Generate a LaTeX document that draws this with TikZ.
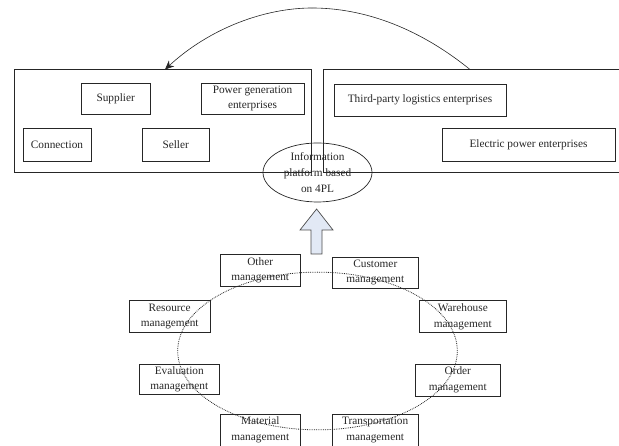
\documentclass[tikz,border=0pt]{standalone}
\usepackage{fontspec}
\setmainfont{Liberation Serif}
\usetikzlibrary{shapes.geometric,arrows.meta}
\definecolor{arrowfill}{HTML}{E2E9F5}
\tikzset{
  box/.style={draw=black!85,line width=0.7pt,rectangle,inner sep=0pt,align=center,
    font=\fontsize{11.3}{15.5}\selectfont,text=black!85},
  outer/.style={draw=black!85,line width=0.7pt,rectangle,inner sep=0pt},
  oval/.style={draw=black!85,line width=0.7pt,ellipse,inner sep=0pt,align=center,
    font=\fontsize{11.3}{16}\selectfont,text=black!85},
  ring/.style={draw=black!85,line width=0.8pt,densely dotted,ellipse,inner sep=0pt},
  flow/.style={draw=black!85,line width=0.6pt,-{Stealth[length=9pt,width=8pt]}},
  blockarrow/.style={draw=black!70,line width=0.7pt,fill=arrowfill},
}
\begin{document}
\begin{tikzpicture}[x=1pt,y=-1pt]
\useasboundingbox (0,0) rectangle (619,446);
% large frames
\node[outer,minimum width=296.4pt,minimum height=103pt] (left) at (162.8,121) {};
\node[outer,minimum width=296pt,minimum height=103pt] (right) at (471.5,121) {};
% upper boxes
\node[box,minimum width=69.5pt,minimum height=31pt] (supplier) at (115.7,98.5) {Supplier};
\node[box,minimum width=103pt,minimum height=31pt] (power) at (252.5,98.5) {Power generation\\enterprises};
\node[box,minimum width=68pt,minimum height=33pt] (connection) at (57,144.5) {Connection};
\node[box,minimum width=67.5pt,minimum height=33pt] (seller) at (175.7,144.5) {Seller};
\node[box,minimum width=172pt,minimum height=31.5pt] (third) at (420,100.2) {Third-party logistics enterprises};
\node[box,minimum width=173pt,minimum height=33pt] (electric) at (528.5,144.5) {Electric power enterprises};
% platform
\node[oval,minimum width=109pt,minimum height=59pt] (platform) at (317.5,172.5) {Information\\platform based\\on 4PL};
% feedback curve
\coordinate (cs) at (470,69.5);
\coordinate (ct) at (312,8);
\coordinate (ce) at (165,69.5);
\draw[line width=0.6pt,draw=black!85] (cs) .. controls (415,25) and (360,8) .. (ct);
\draw[flow] (ct) .. controls (265,8) and (210,28) .. (ce);
% block arrow
\draw[blockarrow] (316.6,209) -- (333,230) -- (322,230) -- (322,254) -- (311,254) -- (311,230) -- (300,230) -- cycle;
% ring of management boxes
\node[box,minimum width=79.7pt,minimum height=31.7pt] (other) at (260.2,270.2) {Other\\management};
\node[box,minimum width=86pt,minimum height=30.7pt] (customer) at (375.3,272.7) {Customer\\management};
\node[box,minimum width=86.3pt,minimum height=32pt] (warehouse) at (462.8,316.7) {Warehouse\\management};
\node[box,minimum width=85pt,minimum height=32pt] (order) at (457.8,380) {Order\\management};
\node[box,minimum width=86.3pt,minimum height=32pt] (transport) at (375.2,430) {Transportation\\management};
\node[box,minimum width=79.3pt,minimum height=32pt] (material) at (260.3,430) {Material\\management};
\node[box,minimum width=80.7pt,minimum height=30.3pt] (evaluation) at (179.3,379.2) {Evaluation\\management};
\node[box,minimum width=80.7pt,minimum height=32pt] (resource) at (169.7,316.7) {Resource\\management};
\node[ring,minimum width=279.6pt,minimum height=157.7pt] (loop) at (317.5,351) {};
\end{tikzpicture}
\end{document}
